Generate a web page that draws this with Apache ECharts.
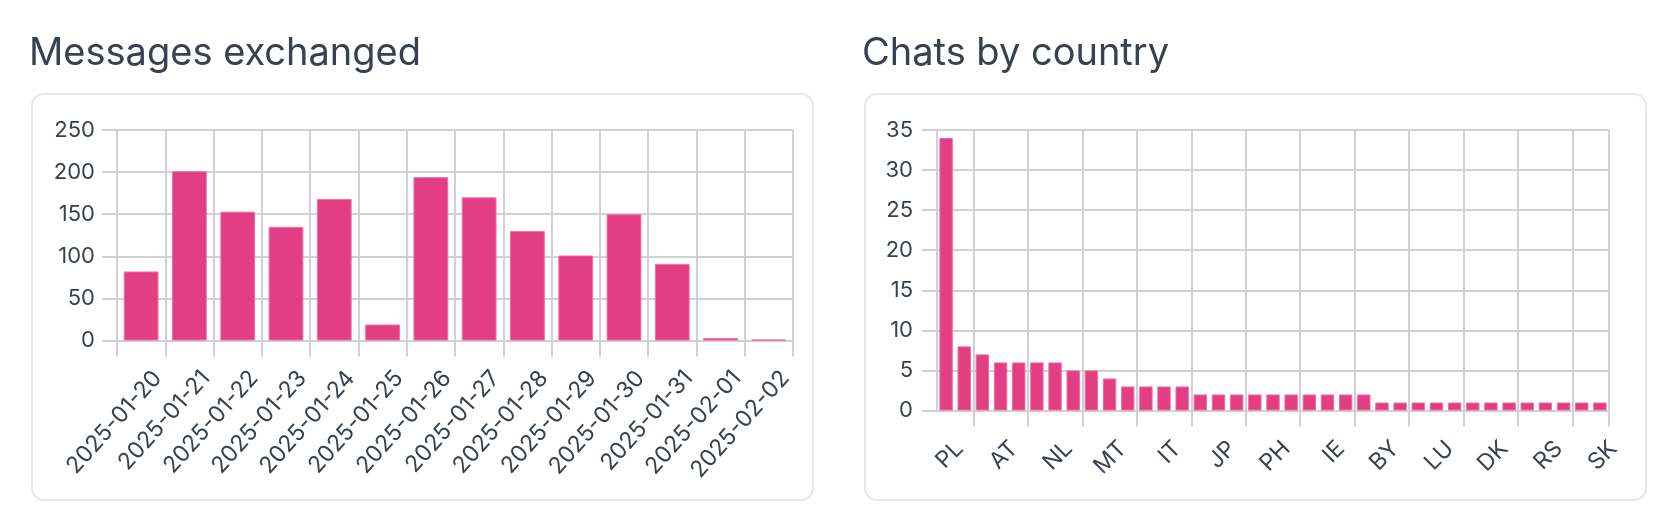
<!DOCTYPE html>
<html>
<head>
<meta charset="utf-8">
<script src="https://cdn.jsdelivr.net/npm/echarts@6/dist/echarts.min.js"></script>
<style>
  html, body { margin: 0; padding: 0; background: #ffffff; }
  #chart { width: 1674px; height: 522px; }
</style>
</head>
<body>
<div id="chart"></div>
<script>
// ---- Data ----
const messageDates = ['2025-01-20','2025-01-21','2025-01-22','2025-01-23','2025-01-24','2025-01-25','2025-01-26','2025-01-27','2025-01-28','2025-01-29','2025-01-30','2025-01-31','2025-02-01','2025-02-02'];
const messageCounts = [82, 201, 153, 135, 168, 19, 194, 170, 130, 101, 150, 91, 3, 1];

const countries = ['PL','DE','GB','AT','FR','US','NL','ES','CZ','MT','UA','SE','IT','NO','IN','JP','CA','BE','PH','PT','CH','IE','RO','HU','BY','BR','FI','LU','GR','LT','DK','EE','LV','RS','HR','SI','SK'];
const chatCounts = [34, 8, 7, 6, 6, 6, 6, 5, 5, 4, 3, 3, 3, 3, 2, 2, 2, 2, 2, 2, 2, 2, 2, 2, 1, 1, 1, 1, 1, 1, 1, 1, 1, 1, 1, 1, 1];

const titles = ['Messages exchanged', 'Chats by country'];

// ---- Styles ----
const TEXT = '#394150';
const GRID = '#d0d0d5';
const BAR = '#e33e84';
const BAR_EDGE = '#ec6fa4';
const FONT = 'Inter, "Noto Sans", sans-serif';

const chart = echarts.init(document.getElementById('chart'), null, { renderer: 'canvas', width: 1674, height: 522 });

function card(x) {
  return {
    type: 'rect', z: -10,
    shape: { x: x, y: 94, width: 781, height: 406, r: 12 },
    style: { fill: '#ffffff', stroke: '#e7e7ea', lineWidth: 2 }
  };
}

const labelBase = { color: TEXT, fontSize: 22, fontFamily: FONT };

option = {
  backgroundColor: '#ffffff',
  animation: false,
  graphic: [card(32), card(865)],
  title: [
    { text: titles[0], left: 29, top: 35, padding: 0,
      textStyle: { color: TEXT, fontSize: 38, fontWeight: 400, fontFamily: FONT } },
    { text: titles[1], left: 862, top: 35, padding: 0,
      textStyle: { color: TEXT, fontSize: 38, fontWeight: 400, fontFamily: FONT } }
  ],
  grid: [
    { left: 117, top: 130, width: 676, height: 210.5, containLabel: false },
    { left: 937, top: 130, width: 672, height: 280.5, containLabel: false }
  ],
  xAxis: [
    {
      type: 'category', gridIndex: 0, data: messageDates, boundaryGap: true,
      axisLine: { show: true, lineStyle: { color: GRID, width: 2 } },
      axisTick: { show: true, interval: 0, length: 16, lineStyle: { color: GRID, width: 2 } },
      splitLine: { show: true, interval: 0, lineStyle: { color: GRID, width: 2 } },
      axisLabel: Object.assign({}, labelBase, { fontSize: 23, lineHeight: 44, interval: 0, rotate: 48, align: 'right', verticalAlign: 'top', margin: 19 })
    },
    {
      type: 'category', gridIndex: 1, data: countries, boundaryGap: true,
      axisLine: { show: true, lineStyle: { color: GRID, width: 2 } },
      axisTick: { show: true, interval: function (i) { return i % 3 === 2; }, length: 16, lineStyle: { color: GRID, width: 2 } },
      splitLine: { show: true, interval: function (i) { return i % 3 === 2; }, lineStyle: { color: GRID, width: 2 } },
      axisLabel: Object.assign({}, labelBase, { fontSize: 23, lineHeight: 38, interval: 2, rotate: 45, align: 'right', verticalAlign: 'top', margin: 21 })
    }
  ],
  yAxis: [
    {
      type: 'value', gridIndex: 0, min: 0, max: 250, interval: 50,
      axisLine: { show: true, lineStyle: { color: GRID, width: 2 } },
      axisTick: { show: true, length: 15, lineStyle: { color: GRID, width: 2 } },
      splitLine: { show: true, lineStyle: { color: GRID, width: 2 } },
      axisLabel: Object.assign({}, labelBase, { margin: 22 })
    },
    {
      type: 'value', gridIndex: 1, min: 0, max: 35, interval: 5,
      axisLine: { show: true, lineStyle: { color: GRID, width: 2 } },
      axisTick: { show: true, length: 15, lineStyle: { color: GRID, width: 2 } },
      splitLine: { show: true, lineStyle: { color: GRID, width: 2 } },
      axisLabel: Object.assign({}, labelBase, { margin: 24 })
    }
  ],
  series: [
    {
      type: 'bar', xAxisIndex: 0, yAxisIndex: 0, data: messageCounts, barWidth: '72%',
      itemStyle: { color: BAR, borderColor: BAR_EDGE, borderWidth: 1 }
    },
    {
      type: 'bar', xAxisIndex: 1, yAxisIndex: 1, data: chatCounts, barWidth: '74%',
      itemStyle: { color: BAR, borderColor: BAR_EDGE, borderWidth: 1 }
    }
  ]
};
chart.setOption(option);
</script>
</body>
</html>
